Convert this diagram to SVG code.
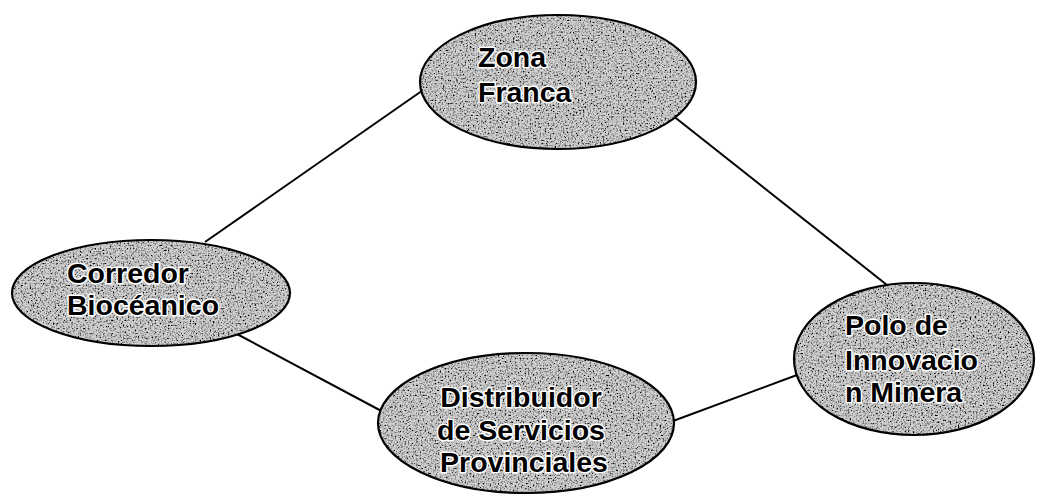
<svg xmlns="http://www.w3.org/2000/svg" width="1041" height="502" viewBox="0 0 1041 502">
<style>
.fill{fill:#d0d0d0;filter:url(#grain)}
.edge{fill:none;stroke:#000;stroke-width:2.2}
.lbl{font-family:"Liberation Sans",Arial,sans-serif;font-weight:bold;font-size:28.5px;fill:#000;stroke:#fff;stroke-width:3;paint-order:stroke;stroke-linejoin:round}
.conn line{stroke:#000;stroke-width:2}
</style>
<defs>
<filter id="grain" x="0" y="0" width="100%" height="100%">
<feTurbulence type="fractalNoise" baseFrequency="0.6" numOctaves="2" seed="7" result="n"/>
<feColorMatrix in="n" type="matrix" values="0 0 0 0 0  0 0 0 0 0  0 0 0 0 0  0 0 0 -3.2 1.75" result="dots"/>
<feComposite in="dots" in2="SourceGraphic" operator="in" result="d2"/>
<feMerge><feMergeNode in="SourceGraphic"/><feMergeNode in="d2"/></feMerge>
</filter>
</defs>
<rect width="1041" height="502" fill="#fff"/>
<g id="connectors" class="conn">
<line x1="205" y1="242" x2="426" y2="88"/>
<line x1="672" y1="115" x2="887" y2="285"/>
<line x1="235" y1="333" x2="402" y2="422"/>
<line x1="673" y1="421" x2="797" y2="375"/>
</g>
<g id="zona-franca">
<ellipse class="fill" cx="558" cy="82" rx="138" ry="67"/>
<ellipse class="edge" cx="558" cy="82" rx="138" ry="67"/>
<text class="lbl" x="478" y="67">Zona</text>
<text class="lbl" x="478" y="102">Franca</text>
</g>
<g id="corredor-bioceanico">
<ellipse class="fill" cx="151" cy="293" rx="139" ry="53"/>
<ellipse class="edge" cx="151" cy="293" rx="139" ry="53"/>
<text class="lbl" x="67" y="283">Corredor</text>
<text class="lbl" x="67" y="315">Biocéanico</text>
</g>
<g id="distribuidor">
<ellipse class="fill" cx="526" cy="423" rx="148" ry="70"/>
<ellipse class="edge" cx="526" cy="423" rx="148" ry="70"/>
<text class="lbl" x="521" y="407" text-anchor="middle">Distribuidor</text>
<text class="lbl" x="521" y="440" text-anchor="middle">de Servicios</text>
<text class="lbl" x="524" y="472" text-anchor="middle">Provinciales</text>
</g>
<g id="polo-innovacion">
<ellipse class="fill" cx="914" cy="359" rx="120" ry="76"/>
<ellipse class="edge" cx="914" cy="359" rx="120" ry="76"/>
<text class="lbl" x="845" y="335">Polo de</text>
<text class="lbl" x="845" y="370">Innovacio</text>
<text class="lbl" x="845" y="402">n Minera</text>
</g>
</svg>
